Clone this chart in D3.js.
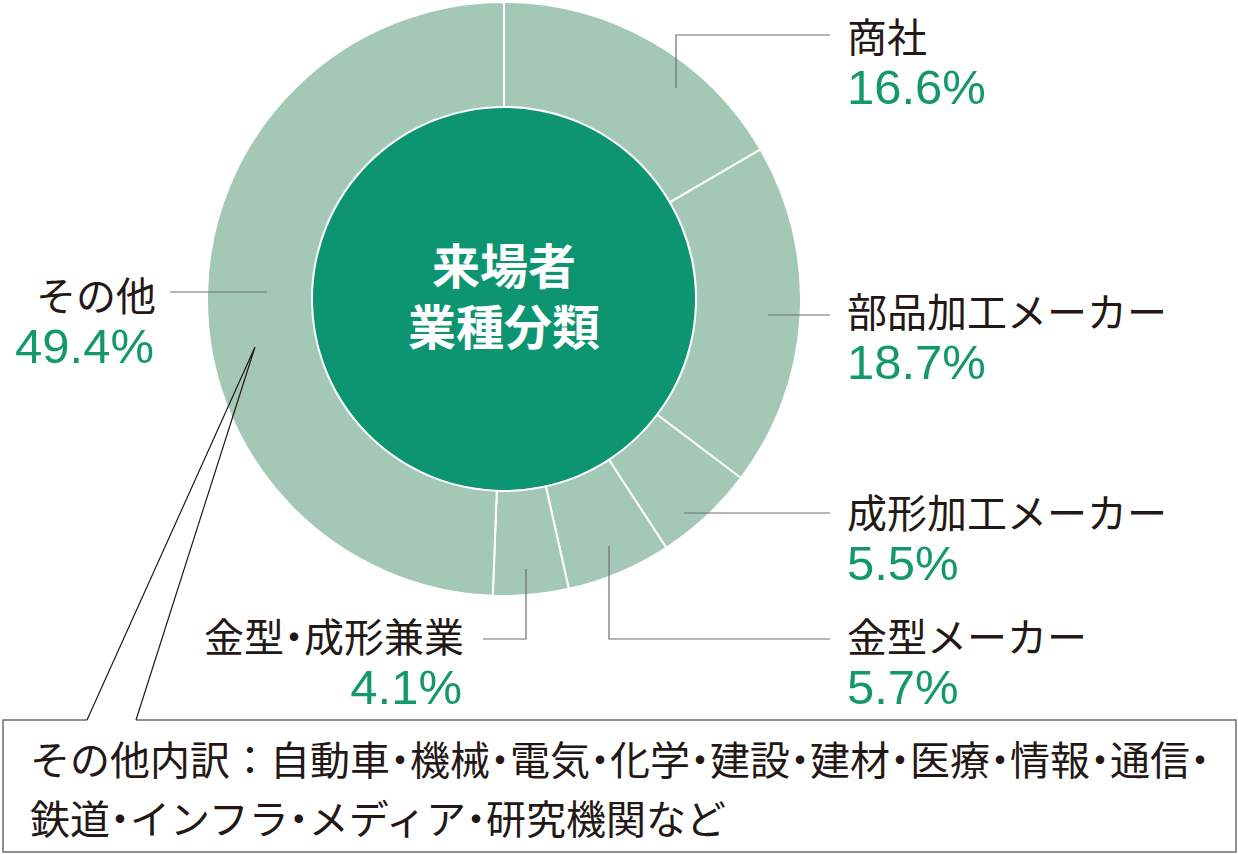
<!DOCTYPE html>
<html><head><meta charset="utf-8">
<script src="https://cdn.jsdelivr.net/npm/d3@7"></script>
<style>html,body{margin:0;padding:0;background:#fff;} .hw{font-feature-settings:"halt" 1;}</style>
</head><body>
<svg id="chart" width="1238" height="854"></svg>
<script>
const categories = ["商社","部品加工メーカー","成形加工メーカー","金型メーカー","金型・成形兼業","その他"];
const values = [16.6, 18.7, 5.5, 5.7, 4.1, 49.4];
const pctLabels = ["16.6%","18.7%","5.5%","5.7%","4.1%","49.4%"];
const centerTitle = ["来場者","業種分類"];
const noteLines = ["その他内訳：自動車・機械・電気・化学・建設・建材・医療・情報・通信・","鉄道・インフラ・メディア・研究機関など"];

const svg = d3.select("#chart");
const cx = 504, cy = 299, rOuter = 297, rInner = 192;
const ringColor = "#a3c8b6", centerColor = "#0d9470", pctColor = "#13986e", textColor = "#231815", lineColor = "#6e6e6e";
const jp = "'Noto Sans CJK JP','Noto Sans',sans-serif";
const num = "'Liberation Sans',Arial,sans-serif";

// write a string into a text element, rendering "・" as a half-width dot (OpenType 'halt');
// the first tspan may be positioned (new line)
function narrowDots(sel, str, x, y) {
  const parts = str.split("・");
  let first = true;
  const add = (txt, cls) => {
    const t = sel.append("tspan").text(txt);
    if (cls) t.attr("class", cls);
    if (first && x !== undefined) t.attr("x", x).attr("y", y);
    first = false;
  };
  parts.forEach((p, i) => {
    if (i > 0) add("・", "hw");
    if (p) add(p);
  });
}

const g = svg.append("g").attr("transform", `translate(${cx},${cy})`);
const pie = d3.pie().sort(null).value(d => d)(values);
const arc = d3.arc().innerRadius(rInner).outerRadius(rOuter);
g.selectAll("path.slice").data(pie).join("path")
  .attr("class","slice").attr("d", arc)
  .attr("fill", ringColor).attr("stroke", "#fff").attr("stroke-width", 2);
g.append("circle").attr("r", rInner - 1).attr("fill", centerColor);

const title = g.append("text").attr("text-anchor","middle").attr("fill","#fff")
  .attr("font-family", jp).attr("font-weight", 700).attr("font-size", 48);
title.selectAll("tspan").data(centerTitle).join("tspan")
  .attr("x", 0).attr("y", (d,i) => -15 + i*61).text(d => d);

// label layout (per slice)
const labelLayout = [
  {x:847, y:52, anchor:"start", line:[[676,88],[676,35],[830,35]]},
  {x:847, y:327, anchor:"start", line:[[768,315],[830,315]]},
  {x:847, y:528, anchor:"start", line:[[684,513],[830,513]]},
  {x:847, y:652, anchor:"start", line:[[609,546],[609,639],[830,639]]},
  {x:464, y:652, anchor:"end", line:[[526,569],[526,639],[483,639]]},
  {x:156, y:311, anchor:"end", line:[[267,292],[170,292]]}
];
const line = d3.line();
categories.forEach((c,i) => {
  const L = labelLayout[i];
  svg.append("path").attr("d", line(L.line)).attr("fill","none")
    .attr("stroke", lineColor).attr("stroke-width", 1.2);
  const t = svg.append("text").attr("x", L.x).attr("y", L.y).attr("text-anchor", L.anchor)
    .attr("font-family", jp).attr("font-size", 40).attr("fill", textColor);
  narrowDots(t, c);
  svg.append("text").attr("x", L.x + (L.anchor==="end"? -2 : 0)).attr("y", L.y + 52).attr("text-anchor", L.anchor)
    .attr("font-family", num).attr("font-size", 49).attr("fill", pctColor).text(pctLabels[i]);
});

// note box with pointer
const boxTop = 720, boxBottom = 852, boxLeft = 3, boxRight = 1236;
const apex = [255, 347], p1 = 87, p2 = 136;
svg.append("path").attr("d", line([[p2,boxTop],[boxRight,boxTop],[boxRight,boxBottom],[boxLeft,boxBottom],[boxLeft,boxTop],[p1,boxTop]]))
  .attr("fill","#fff").attr("stroke", lineColor).attr("stroke-width", 1.5);
svg.append("path").attr("d", line([[p1,boxTop],apex,[p2,boxTop]]))
  .attr("fill","none").attr("stroke", textColor).attr("stroke-width", 1.2);
const note = svg.append("text").attr("font-family", jp).attr("font-size", 40).attr("fill", textColor);
noteLines.forEach((d,i) => narrowDots(note, d, 30, 775 + i*59));
</script>
</body></html>
